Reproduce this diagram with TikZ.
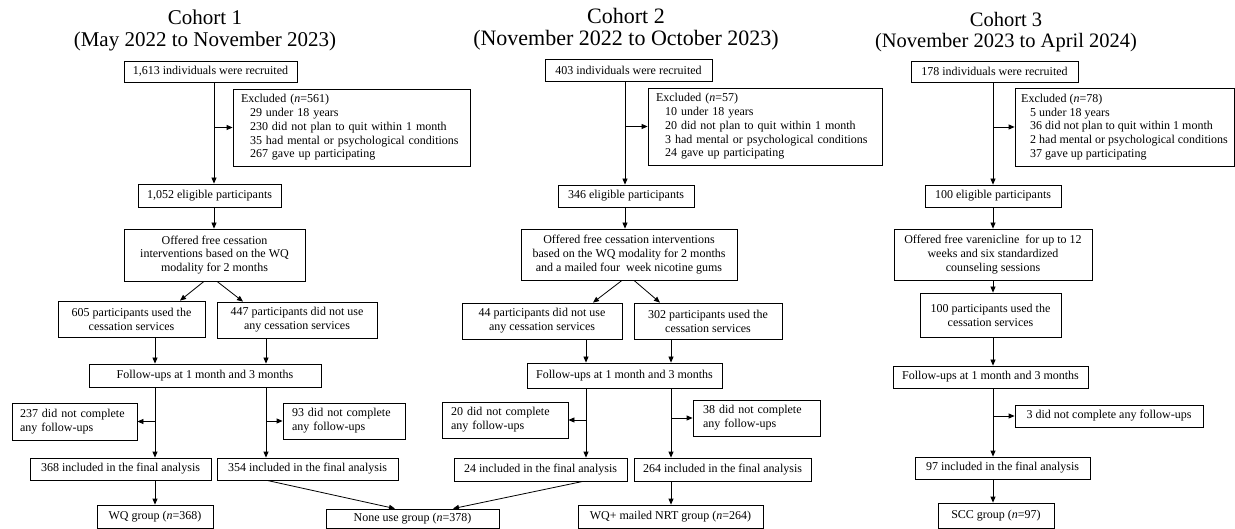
\documentclass[tikz,border=0pt]{standalone}
\usepackage{fontspec}
\setmainfont{Liberation Serif}
\usetikzlibrary{arrows.meta}
\tikzset{
  box/.style={draw, line width=0.8pt, inner sep=0pt, align=center, font=\fontsize{12}{13.8}\selectfont},
  lbox/.style={box, align=left},
  arr/.style={line width=0.8pt, -{Triangle[length=6pt,width=5pt]}},
  title/.style={align=center, inner sep=0pt}
}
\newcommand\bx[7][box]{\node[#1, minimum width={#5-#3}, minimum height={#6-#4}] (#2) at ({(#3+#5)/2},{(#4+#6)/2}) {#7};}
\begin{document}
\begin{tikzpicture}[x=1pt,y=-1pt]
\useasboundingbox (0,0) rectangle (1235,529);
% titles
\node[title, font=\fontsize{21}{21.5}\selectfont] (t1) at (205,30.5) {Cohort 1\\(May 2022 to November 2023)};
\node[title, font=\fontsize{22}{22}\selectfont] (t2) at (626,29.5) {Cohort 2\\(November 2022 to October 2023)};
\node[title, font=\fontsize{20.5}{21}\selectfont] (t3) at (1006,32) {Cohort 3\\(November 2023 to April 2024)};
% column coordinates
\coordinate (k214) at (214,0);
\coordinate (k155) at (155,0);
\coordinate (k266) at (266,0);
\coordinate (k625) at (625,0);
\coordinate (k586) at (586,0);
\coordinate (k671) at (671,0);
\coordinate (k993) at (993,0);
% ---------------- Cohort 1
\bx{r1}{124}{61}{297}{82}{1,613 individuals were recruited}
\bx[lbox, text width=221pt]{x1}{233}{89}{470}{166}{Excluded (\textit{n}=561)\\\hspace*{9pt}29 under 18 years\\\hspace*{9pt}230 did not plan to quit within 1 month\\\hspace*{9pt}35 had mental or psychological conditions\\\hspace*{9pt}267 gave up participating}
\bx{e1}{138}{184}{281}{207}{1,052 eligible participants}
\bx{o1}{124}{229}{305}{281}{Offered free cessation\\interventions based on the WQ\\modality for 2 months}
\bx{ua}{58}{301}{205}{337}{605 participants used the\\cessation services}
\bx{na}{217}{302}{377}{338}{447 participants did not use\\any cessation services}
\bx{f1}{89}{364}{321}{387}{Follow-ups at 1 month and 3 months}
\bx[lbox, text width=109pt]{d1a}{12}{403}{137}{440}{237 did not complete\\any follow-ups}
\bx[lbox, text width=104pt]{d1b}{283}{403}{405}{439}{93 did not complete\\any follow-ups}
\bx{i1a}{30}{458}{211}{480}{368 included in the final analysis}
\bx{i1b}{217}{458}{398}{480}{354 included in the final analysis}
\bx{g1}{97}{505}{213}{528}{WQ group (\textit{n}=368)}
\bx{none}{326}{509}{499}{528.5}{None use group (\textit{n}=378)}
\draw[arr] (r1.south -| k214) -- (e1.north -| k214);
\draw[arr] (k214 |- x1.west) -- (x1.west);
\draw[arr] (e1.south -| k214) -- (o1.north -| k214);
\draw[arr] ([xshift=-10.5pt]o1.south) -- ([xshift=48.5pt]ua.north);
\draw[arr] ([xshift=2.5pt]o1.south) -- ([xshift=-54pt]na.north);
\draw[arr] (ua.south -| k155) -- (f1.north -| k155);
\draw[arr] (na.south -| k266) -- (f1.north -| k266);
\draw[arr] (f1.south -| k155) -- (i1a.north -| k155);
\draw[arr] (k155 |- d1a.east) -- (d1a.east);
\draw[arr] (f1.south -| k266) -- (i1b.north -| k266);
\draw[arr] (k266 |- d1b.west) -- (d1b.west);
\draw[arr] (i1a.south -| k155) -- (g1.north -| k155);
\draw[arr] ([xshift=-40.5pt]i1b.south) -- ([xshift=-17.5pt]none.north);
% ---------------- Cohort 2
\bx{r2}{545}{59}{712}{81}{403 individuals were recruited}
\bx[lbox, text width=218pt]{x2}{648}{88}{882}{165}{Excluded (\textit{n}=57)\\\hspace*{9pt}10 under 18 years\\\hspace*{9pt}20 did not plan to quit within 1 month\\\hspace*{9pt}3 had mental or psychological conditions\\\hspace*{9pt}24 gave up participating}
\bx{e2}{558}{185}{694}{207}{346 eligible participants}
\bx{o2}{521}{229}{737}{280}{Offered free cessation interventions\\based on the WQ modality for 2 months\\and a mailed four\ \ week nicotine gums}
\bx{na2}{462}{303}{622}{339}{44 participants did not use\\any cessation services}
\bx{ua2}{634}{303}{782}{339}{302 participants used the\\cessation services}
\bx{f2}{527}{363}{722}{388}{Follow-ups at 1 month and 3 months}
\bx[lbox, text width=108pt]{d2a}{442}{402}{568}{438}{20 did not complete\\any follow-ups}
\bx[lbox, text width=107pt]{d2b}{693}{400}{820}{436}{38 did not complete\\any follow-ups}
\bx{i2a}{454}{458}{627}{481}{24 included in the final analysis}
\bx{i2b}{634}{458}{811}{481}{264 included in the final analysis}
\bx{g2}{578}{505}{763}{528}{WQ+ mailed NRT group (\textit{n}=264)}
\draw[arr] (r2.south -| k625) -- (e2.north -| k625);
\draw[arr] (k625 |- x2.west) -- (x2.west);
\draw[arr] (e2.south -| k625) -- (o2.north -| k625);
\draw[arr] ([xshift=-7pt]o2.south) -- ([xshift=51pt]na2.north);
\draw[arr] ([xshift=5pt]o2.south) -- ([xshift=-48pt]ua2.north);
\draw[arr] (na2.south -| k586) -- (f2.north -| k586);
\draw[arr] (ua2.south -| k671) -- (f2.north -| k671);
\draw[arr] (f2.south -| k586) -- (i2a.north -| k586);
\draw[arr] (k586 |- d2a.east) -- (d2a.east);
\draw[arr] (f2.south -| k671) -- (i2b.north -| k671);
\draw[arr] (k671 |- d2b.west) -- (d2b.west);
\draw[arr] (i2b.south -| k671) -- (g2.north -| k671);
\draw[arr] ([xshift=42.5pt]i2a.south) -- ([xshift=40.5pt]none.north);
% ---------------- Cohort 3
\bx{r3}{911}{61}{1078}{82}{178 individuals were recruited}
\bx[lbox]{x3}{1015}{88}{1234}{166}{Excluded (\textit{n}=78)\\\hspace*{9pt}5 under 18 years\\\hspace*{9pt}36 did not plan to quit within 1 month\\\hspace*{9pt}2 had mental or psychological conditions\\\hspace*{9pt}37 gave up participating}
\bx{e3}{925}{185}{1061}{207}{100 eligible participants}
\bx{o3}{894}{229}{1092}{280}{Offered free varenicline\ \ for up to 12\\weeks and six standardized\\counseling sessions}
\bx{u3}{920}{293}{1061}{337}{100 participants used the\\cessation services}
\bx{f3}{893}{366}{1088}{388}{Follow-ups at 1 month and 3 months}
\bx{d3}{1015}{405}{1203}{427}{3 did not complete any follow-ups}
\bx{i3}{915}{457}{1090}{479}{97 included in the final analysis}
\bx{g3}{938}{503}{1054}{528}{SCC group (\textit{n}=97)}
\draw[arr] (r3.south -| k993) -- (e3.north -| k993);
\draw[arr] (k993 |- x3.west) -- (x3.west);
\draw[arr] (e3.south -| k993) -- (o3.north -| k993);
\draw[arr] (o3.south -| k993) -- (u3.north -| k993);
\draw[arr] (u3.south -| k993) -- (f3.north -| k993);
\draw[arr] (f3.south -| k993) -- (i3.north -| k993);
\draw[arr] (k993 |- d3.west) -- (d3.west);
\draw[arr] (i3.south -| k993) -- (g3.north -| k993);
\end{tikzpicture}
\end{document}
